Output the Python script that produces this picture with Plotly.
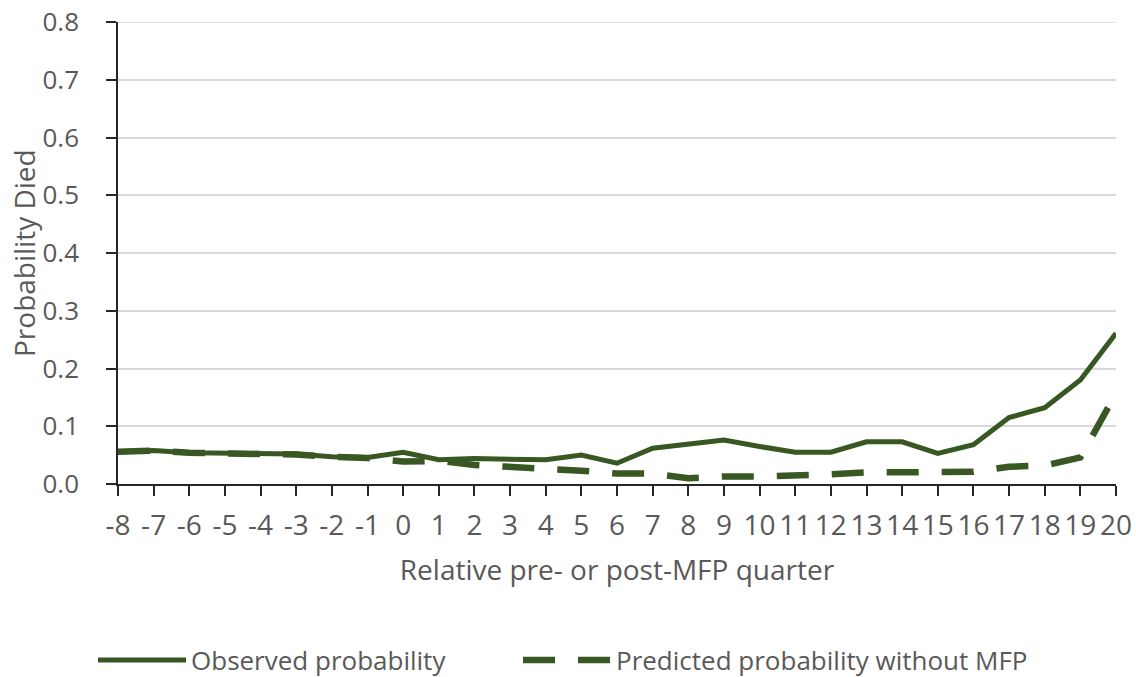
import plotly.graph_objects as go

quarters = list(range(-8, 21))
quarter_labels = [str(q) for q in quarters]
observed = [0.056, 0.058, 0.054, 0.053, 0.053, 0.052, 0.047, 0.046, 0.055, 0.042,
            0.044, 0.042, 0.042, 0.050, 0.036, 0.062, 0.070, 0.076, 0.065, 0.055,
            0.055, 0.073, 0.073, 0.053, 0.068, 0.115, 0.132, 0.180, 0.261]
predicted = [0.056, 0.058, 0.054, 0.053, 0.053, 0.051, 0.047, 0.045, 0.039, 0.040,
             0.033, 0.030, 0.025, 0.023, 0.018, 0.018, 0.010, 0.013, 0.013, 0.014,
             0.017, 0.020, 0.020, 0.020, 0.021, 0.030, 0.032, 0.046, 0.157]
y_ticks = [0.0, 0.1, 0.2, 0.3, 0.4, 0.5, 0.6, 0.7, 0.8]
y_title = "Probability Died"
x_title = "Relative pre- or post-MFP quarter"

GREEN = "#385722"
FONT = "Open Sans"
GRAY = "#595959"
AXIS = "#262626"
GRID = "#d9d9d9"

W, H = 1136, 677
L, R, T, B = 118, 20, 22, 193
LEG_Y = 1 - 660 / H

fig = go.Figure()
fig.add_trace(go.Scatter(x=quarters, y=observed, mode="lines", name="Observed probability",
                         line=dict(color=GREEN, width=5), legend="legend"))
fig.add_trace(go.Scatter(x=quarters, y=predicted, mode="lines", name="Predicted probability without MFP",
                         line=dict(color=GREEN, width=6.5, dash="32px,23px"), legend="legend2"))

# top gridline (at the last y tick) drawn explicitly, as Plotly drops it at the axis edge
fig.add_shape(type="line", xref="paper", x0=0, x1=1, yref="y", y0=y_ticks[-1], y1=y_ticks[-1],
              line=dict(color=GRID, width=1.5), layer="below")

# y-axis title as an annotation so it sits clear of the tick labels
fig.add_annotation(text=y_title, textangle=-90, xref="paper", yref="paper",
                   x=0, y=0.5, xanchor="center", yanchor="middle",
                   xshift=24 - L, showarrow=False,
                   font=dict(family=FONT, size=28, color=GRAY))

legend_common = dict(orientation="h", xref="container", yref="container",
                     y=LEG_Y, xanchor="left", yanchor="middle",
                     font=dict(size=26, color=GRAY), itemwidth=88,
                     bgcolor="rgba(0,0,0,0)")

fig.update_layout(
    width=W, height=H,
    margin=dict(l=L, r=R, t=T, b=B),
    paper_bgcolor="white", plot_bgcolor="white",
    font=dict(family=FONT, size=28, color=GRAY),
    showlegend=True,
    legend=dict(x=93 / W, **legend_common),
    legend2=dict(x=518 / W, **legend_common),
    xaxis=dict(range=[-8, 20], tickmode="array", tickvals=quarters, ticktext=quarter_labels,
               showline=True, linecolor=AXIS, linewidth=1.5, automargin=False,
               ticks="outside", ticklen=10, tickcolor=AXIS, tickwidth=1.5,
               showgrid=False, zeroline=False, ticklabelstandoff=6,
               ticklabeloverflow="allow",
               tickfont=dict(size=28, color=GRAY),
               title=dict(text=x_title, font=dict(size=28, color=GRAY), standoff=18)),
    yaxis=dict(range=[0, 0.8], tickmode="array", tickvals=y_ticks, tickformat=".1f",
               showline=True, linecolor=AXIS, linewidth=1.5, automargin=False,
               ticks="outside", ticklen=10, tickcolor=AXIS, tickwidth=1.5,
               showgrid=True, gridcolor=GRID, gridwidth=1.5, zeroline=False,
               ticklabelstandoff=22, ticklabeloverflow="allow",
               tickfont=dict(size=26, color=GRAY)),
)

fig.write_html("out.html",
               config={"displayModeBar": False},
               post_script="document.body.style.margin='0';document.body.style.overflow='hidden';")
